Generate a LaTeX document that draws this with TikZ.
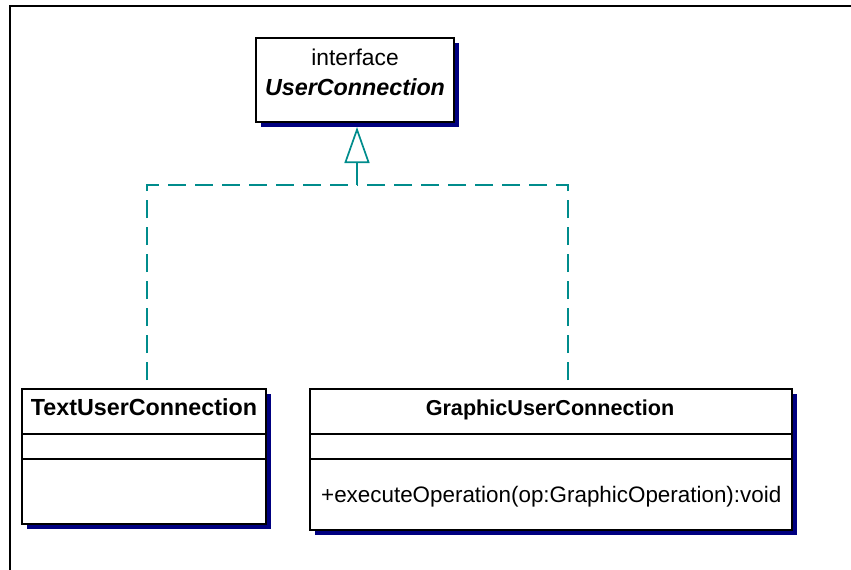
\documentclass[tikz,border=0pt]{standalone}
\usepackage{fontspec}
\setmainfont{Liberation Sans}
\usetikzlibrary{arrows.meta,calc}
\definecolor{umlteal}{RGB}{0,140,140}
\definecolor{umlnavy}{RGB}{0,0,128}
\tikzset{
  classbox/.style={draw=black, line width=1.8pt, fill=white, rectangle, inner sep=0pt},
  boxshadow/.style={fill=umlnavy, draw=none},
  divider/.style={draw=black, line width=1.5pt},
  lbl/.style={inner sep=0pt, anchor=base, font=\fontsize{22.4}{27}\selectfont},
  blbl/.style={inner sep=0pt, anchor=base, font=\fontsize{23.3}{27}\selectfont\bfseries},
  dep/.style={draw=umlteal, line width=1.7pt, dash pattern=on 18pt off 9pt},
  realize/.style={draw=umlteal, line width=1.7pt, -{Triangle[open, length=36pt, width=25pt, line width=1.7pt]}},
  frame/.style={draw=black, line width=2.4pt}
}
\begin{document}
\begin{tikzpicture}[x=1pt, y=-1pt]
\useasboundingbox (0,0) rectangle (851,570);
\draw[frame] (10,570) -- (10,6) -- (851,6);
% shadows
\fill[boxshadow] (261,43) rectangle (459,127);
\fill[boxshadow] (27,394) rectangle (271,529);
\fill[boxshadow] (315,394) rectangle (797,535);
% boxes
\node[classbox, minimum width=198pt, minimum height=84pt] (iface) at (355,80) {};
\node[classbox, minimum width=244pt, minimum height=135pt] (tuc) at (144,456.5) {};
\node[classbox, minimum width=482pt, minimum height=141pt] (guc) at (551,459.5) {};
% dividers
\draw[divider] (22,434) -- (266,434);
\draw[divider] (22,459) -- (266,459);
\draw[divider] (310,434) -- (792,434);
\draw[divider] (310,459) -- (792,459);
% labels
\node[lbl, font=\fontsize{22.8}{27}\selectfont] (ilbl1) at (355,65) {interface};
\node[blbl] (ilbl2) at (355,95) {\itshape UserConnection};
\node[blbl] (tlbl) at (144,415) {TextUserConnection};
\node[blbl, font=\fontsize{21.6}{27}\selectfont\bfseries] (glbl) at (550,415) {GraphicUserConnection};
\node[lbl, anchor=base west] (gop) at (321,502) {+executeOperation(op:GraphicOperation):void};
% connectors
\coordinate (j) at (357,185);
\coordinate (ta) at (147,380);
\coordinate (ga) at (568,380);
\coordinate (apex) at (357,127);
\draw[dep] (ta) |- (j);
\draw[dep] (ga) |- (j);
\draw[realize] (j) -- (apex);
\end{tikzpicture}
\end{document}
